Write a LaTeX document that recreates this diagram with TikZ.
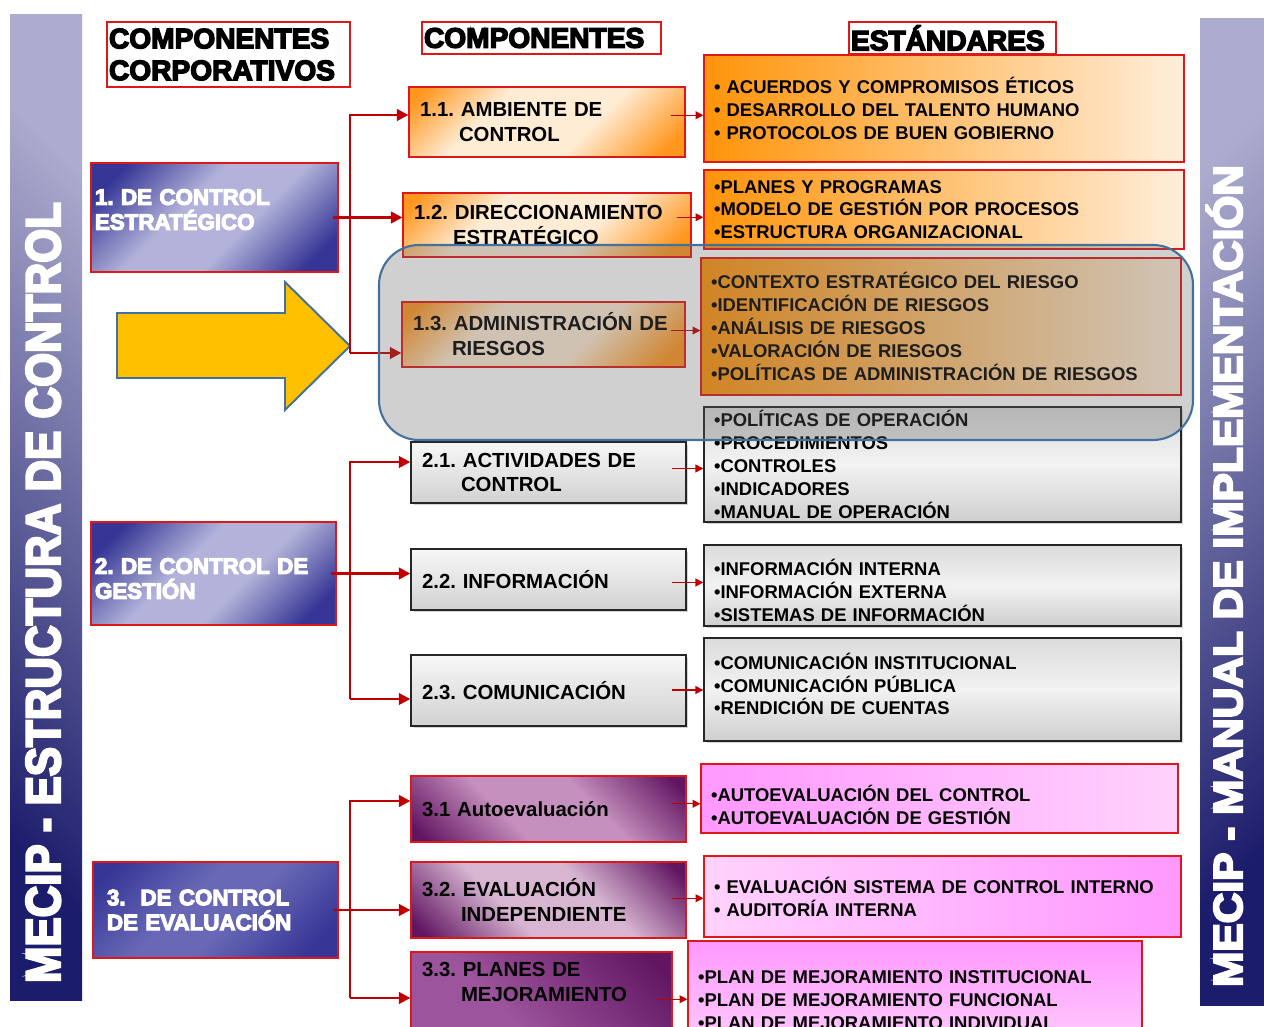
\documentclass[tikz,border=0pt]{standalone}
\usepackage{fontspec}
\setmainfont{Liberation Sans}
\newfontfamily\heavyfont[FakeBold=5]{Liberation Sans Bold}
\usepackage{tikz}
\usetikzlibrary{arrows.meta, calc, shadows, positioning}

\definecolor{lineRed}{RGB}{192,0,0}
\definecolor{boxRed}{RGB}{222,24,24}
\definecolor{barDark}{RGB}{28,28,108}
\definecolor{barLight}{RGB}{172,172,206}
\definecolor{blueDark}{RGB}{54,54,150}
\definecolor{blueLight}{RGB}{178,178,218}
\definecolor{blueMid}{RGB}{104,104,182}
\definecolor{orangeDark}{RGB}{255,150,30}
\definecolor{cream}{RGB}{255,236,212}
\definecolor{orangeStd}{RGB}{255,148,10}
\definecolor{creamStd}{RGB}{255,238,220}
\definecolor{purpleDark}{RGB}{98,22,98}
\definecolor{purpleMid}{RGB}{156,84,156}
\definecolor{purpleLight}{RGB}{198,144,190}
\definecolor{purplePale}{RGB}{216,182,210}
\definecolor{pinkDark}{RGB}{255,152,255}
\definecolor{pinkLight}{RGB}{255,210,252}
\definecolor{arrowYellow}{RGB}{255,192,0}
\definecolor{steel}{RGB}{65,113,156}
\definecolor{veil}{RGB}{100,100,100}

\pgfdeclareverticalshading{blueband}{100bp}{color(0bp)=(blueDark); color(22bp)=(blueDark); color(42bp)=(blueLight); color(58bp)=(blueLight); color(78bp)=(blueDark); color(100bp)=(blueDark)}
\pgfdeclareverticalshading{bluedeep}{100bp}{color(0bp)=(blueDark); color(22bp)=(blueDark); color(45bp)=(blueMid); color(58bp)=(blueMid); color(80bp)=(blueDark); color(100bp)=(blueDark)}
\pgfdeclareverticalshading{orangeband}{100bp}{color(0bp)=(orangeDark); color(20bp)=(orangeDark); color(40bp)=(cream); color(64bp)=(cream); color(82bp)=(orangeDark); color(100bp)=(orangeDark)}
\pgfdeclareverticalshading{purpleband}{100bp}{color(0bp)=(purpleDark); color(18bp)=(purpleDark); color(40bp)=(purpleLight); color(60bp)=(purpleLight); color(82bp)=(purpleDark); color(100bp)=(purpleDark)}
\pgfdeclareverticalshading{purplepale}{100bp}{color(0bp)=(purpleDark); color(18bp)=(purpleDark); color(40bp)=(purplePale); color(60bp)=(purplePale); color(82bp)=(purpleDark); color(100bp)=(purpleDark)}
\pgfdeclareverticalshading{purpledeep}{100bp}{color(0bp)=(purpleMid); color(40bp)=(purpleMid); color(80bp)=(purpleDark); color(100bp)=(purpleDark)}

\newcommand{\ind}{\hspace*{0.78cm}}
\frenchspacing

\begin{document}
\begin{tikzpicture}
  [
    x=0.02cm, y=-0.02cm,
    Bar/.style={text=white, inner sep=0pt, font=\heavyfont\fontsize{27.7}{30}\selectfont},
    Head/.style={draw=boxRed, fill=white, line width=0.7pt, align=left, inner xsep=0.04cm, inner ysep=0pt, font=\heavyfont\fontsize{16}{18.1}\selectfont},
    Corp/.style={draw=boxRed, line width=0.7pt, text=white, align=left, inner xsep=0.08cm, font=\heavyfont\fontsize{12.7}{14.2}\selectfont},
    Comp/.style={draw=boxRed, line width=0.7pt, align=left, inner xsep=0.22cm, inner ysep=0.05cm, font=\bfseries\fontsize{11.6}{14.2}\selectfont},
    Std/.style={draw=boxRed, line width=0.7pt, align=left, inner xsep=0.2cm, inner ysep=0.05cm, font=\bfseries\fontsize{10.5}{13}\selectfont},
    Gray/.style={draw=black!85, line width=0.8pt, drop shadow={opacity=0.35, shadow xshift=0.05cm, shadow yshift=-0.05cm}},
    Band/.style={shade, shading=#1, shading angle=45},
    Feed/.style={lineRed, line width=1.4pt, -{Triangle[length=6.5pt, width=6.5pt]}},
    Link/.style={lineRed, line width=0.7pt, -{Triangle[length=4.5pt, width=4.5pt]}}
  ]
  \useasboundingbox (0,0) rectangle (1264,1027);
  \clip (0,0) rectangle (1264,1027);

  % Side bars
  \shade[top color=barLight, bottom color=barDark, shading angle=-45] (10,15) rectangle (82,1000);
  \shade[top color=barLight, bottom color=barDark, shading angle=45] (1200,19) rectangle (1264,1005);
  \node[Bar, rotate=90, anchor=base] (estructura) at (60,592.5) {\scalebox{0.9}[1]{MECIP - ESTRUCTURA DE CONTROL}};
  \node[Bar, rotate=90, anchor=base, font=\heavyfont\fontsize{23}{26}\selectfont] (manual) at (1242,576) {\scalebox{1.05}[1]{MECIP - MANUAL DE IMPLEMENTACIÓN}};

  % Headers
  \node[Head, minimum width=4.86cm, minimum height=1.3cm, text width=4.78cm] (hcorp) at (228.5,54.5) {COMPONENTES\\CORPORATIVOS};
  \node[Head, minimum width=4.78cm, minimum height=0.64cm, text width=4.70cm] (hcomp) at (541.5,38) {COMPONENTES};
  \node[Head, minimum width=4.14cm, minimum height=0.64cm, text width=4.06cm] (hstd) at (952.5,38) {ESTÁNDARES};

  % Corporate components
  \node[Corp, Band=blueband, minimum width=4.94cm, minimum height=2.18cm, text width=4.78cm, text depth=0.82cm] (c1) at (214.5,217.5) {1. DE CONTROL\\ESTRATÉGICO};
  \node[Corp, Band=blueband, minimum width=4.9cm, minimum height=2.06cm, text width=4.74cm, text depth=0.3cm] (c2) at (213.5,573.5) {2. DE CONTROL DE\\GESTIÓN};
  \node[Corp, Band=bluedeep, inner xsep=0.28cm, minimum width=4.9cm, minimum height=1.92cm, text width=4.34cm] (c3) at (215.5,910) {3.\ \ DE CONTROL\\DE EVALUACIÓN};

  % Components
  \node[Comp, Band=orangeband, minimum width=5.52cm, minimum height=1.4cm, text width=5.08cm] (m11) at (547,122) {1.1. AMBIENTE DE\\\ind CONTROL};
  \node[Comp, Band=orangeband, minimum width=5.76cm, minimum height=1.28cm, text width=5.32cm] (m12) at (547,225) {1.2. DIRECCIONAMIENTO\\\ind ESTRATÉGICO};
  \node[Comp, Band=orangeband, minimum width=5.66cm, minimum height=1.3cm, text width=5.22cm] (m13) at (543.5,334.5) {1.3. ADMINISTRACIÓN DE\\\ind RIESGOS};
  \node[Comp, Gray, top color=gray!6, bottom color=gray!36, minimum width=5.5cm, minimum height=1.22cm, text width=5.06cm] (m21) at (548.5,472.5) {2.1. ACTIVIDADES DE\\\ind CONTROL};
  \node[Comp, Gray, top color=gray!6, bottom color=gray!36, minimum width=5.5cm, minimum height=1.22cm, text width=5.06cm] (m22) at (548.5,579.5) {2.2. INFORMACIÓN};
  \node[Comp, Gray, top color=gray!6, bottom color=gray!36, minimum width=5.5cm, minimum height=1.42cm, text width=5.06cm] (m23) at (548.5,690.5) {2.3. COMUNICACIÓN};
  \node[Comp, Band=purpleband, shading angle=-45, minimum width=5.5cm, minimum height=1.32cm, text width=5.06cm] (m31) at (548.5,809) {3.1 Autoevaluación};
  \node[Comp, Band=purplepale, shading angle=-45, minimum width=5.5cm, minimum height=1.52cm, text width=5.06cm] (m32) at (548.5,900) {3.2. EVALUACIÓN\\\ind INDEPENDIENTE};
  \node[Comp, Band=purpledeep, shading angle=-45, minimum width=5.22cm, minimum height=1.86cm, text width=4.78cm, text depth=1.18cm] (m33) at (541.5,998.5) {3.3. PLANES DE\\\ind MEJORAMIENTO};

  % Standards
  \node[Std, left color=orangeStd, right color=creamStd, minimum width=9.6cm, minimum height=2.14cm, text width=9.2cm] (s11) at (944,108.5) {• ACUERDOS Y COMPROMISOS ÉTICOS\\• DESARROLLO DEL TALENTO HUMANO\\• PROTOCOLOS DE BUEN GOBIERNO};
  \node[Std, left color=orangeStd, right color=creamStd, minimum width=9.6cm, minimum height=1.58cm, text width=9.2cm] (s12) at (944,209.5) {•PLANES Y PROGRAMAS\\•MODELO DE GESTIÓN POR PROCESOS\\•ESTRUCTURA ORGANIZACIONAL};
  \node[Std, left color=orangeStd, right color=creamStd, minimum width=9.6cm, minimum height=2.74cm, text width=9.2cm] (s13) at (941,326.5) {•CONTEXTO ESTRATÉGICO DEL RIESGO\\•IDENTIFICACIÓN DE RIESGOS\\•ANÁLISIS DE RIESGOS\\•VALORACIÓN DE RIESGOS\\•POLÍTICAS DE ADMINISTRACIÓN DE RIESGOS};
  \node[Std, Gray, top color=gray!28, bottom color=gray!38, middle color=gray!10, minimum width=9.54cm, minimum height=2.3cm, text width=9.14cm] (s21) at (942.5,464.5) {•POLÍTICAS DE OPERACIÓN\\•PROCEDIMIENTOS\\•CONTROLES\\•INDICADORES\\•MANUAL DE OPERACIÓN};
  \node[Std, Gray, top color=gray!28, bottom color=gray!38, middle color=gray!10, minimum width=9.54cm, minimum height=1.62cm, text width=9.14cm, text depth=0.72cm] (s22) at (942.5,585.5) {•INFORMACIÓN INTERNA\\•INFORMACIÓN EXTERNA\\•SISTEMAS DE INFORMACIÓN};
  \node[Std, Gray, top color=gray!28, bottom color=gray!38, middle color=gray!10, minimum width=9.54cm, minimum height=2.06cm, text width=9.14cm, text depth=1.14cm] (s23) at (942.5,689.5) {•COMUNICACIÓN INSTITUCIONAL\\•COMUNICACIÓN PÚBLICA\\•RENDICIÓN DE CUENTAS};
  \node[Std, left color=pinkDark, right color=pinkLight, minimum width=9.54cm, minimum height=1.38cm, text width=9.14cm, text depth=0.22cm] (s31) at (939.5,798.5) {•AUTOEVALUACIÓN DEL CONTROL\\•AUTOEVALUACIÓN DE GESTIÓN};
  \node[Std, left color=pinkLight, right color=pinkDark, minimum width=9.54cm, minimum height=1.62cm, text width=9.14cm] (s32) at (942.5,896.5) {• EVALUACIÓN SISTEMA DE CONTROL INTERNO\\• AUDITORÍA INTERNA};
  \node[Std, top color=pinkDark, bottom color=pinkLight, minimum width=9.08cm, minimum height=2.36cm, text width=8.68cm] (s33) at (915,1000) {•PLAN DE MEJORAMIENTO INSTITUCIONAL\\•PLAN DE MEJORAMIENTO FUNCIONAL\\•PLAN DE MEJORAMIENTO INDIVIDUAL};

  % Big arrow
  \draw[fill=arrowYellow, draw=steel, line width=1.1pt] (117,313) -- (285,313) -- (285,282) -- (350,346) -- (285,410) -- (285,378) -- (117,378) -- cycle;

  % Connectors
  \coordinate (top1) at (350,115);
  \coordinate (bot1) at (350,353);
  \coordinate (top2) at (350,462);
  \coordinate (bot2) at (350,699);
  \coordinate (top3) at (350,801);
  \coordinate (bot3) at (350,998);
  \draw[Feed] ([xshift=-0.12cm]c1.east) -- (c1.east -| m12.west);
  \draw[Feed] (bot1) |- (top1 -| m11.west);
  \draw[Feed] (bot1) -- (bot1 -| m13.west);
  \draw[Feed] ([xshift=-0.12cm]c2.east) -- (c2.east -| m22.west);
  \draw[Feed] (bot2) |- (top2 -| m21.west);
  \draw[Feed] (bot2) -- (bot2 -| m23.west);
  \draw[Feed] ([xshift=-0.12cm]c3.east) -- (c3.east -| m32.west);
  \draw[Feed] (bot3) |- (top3 -| m31.west);
  \draw[Feed] (bot3) -- (bot3 -| m33.west);

  \foreach \m/\s in {m11/s11, m12/s12, m13/s13, m21/s21, m22/s22, m23/s23, m31/s31, m32/s32, m33/s33} {
    \coordinate (mid) at ($(\m.east)!0.5!(\s.west)$);
    \draw[Link] ([xshift=-0.3cm]mid -| \m.east) -- (mid -| \s.west);
  }

  % Risk focus
  \draw[fill=veil, fill opacity=0.3, draw=steel, line width=1.2pt, rounded corners=0.8cm] (379,245) rectangle (1193,440);

\end{tikzpicture}
\end{document}
